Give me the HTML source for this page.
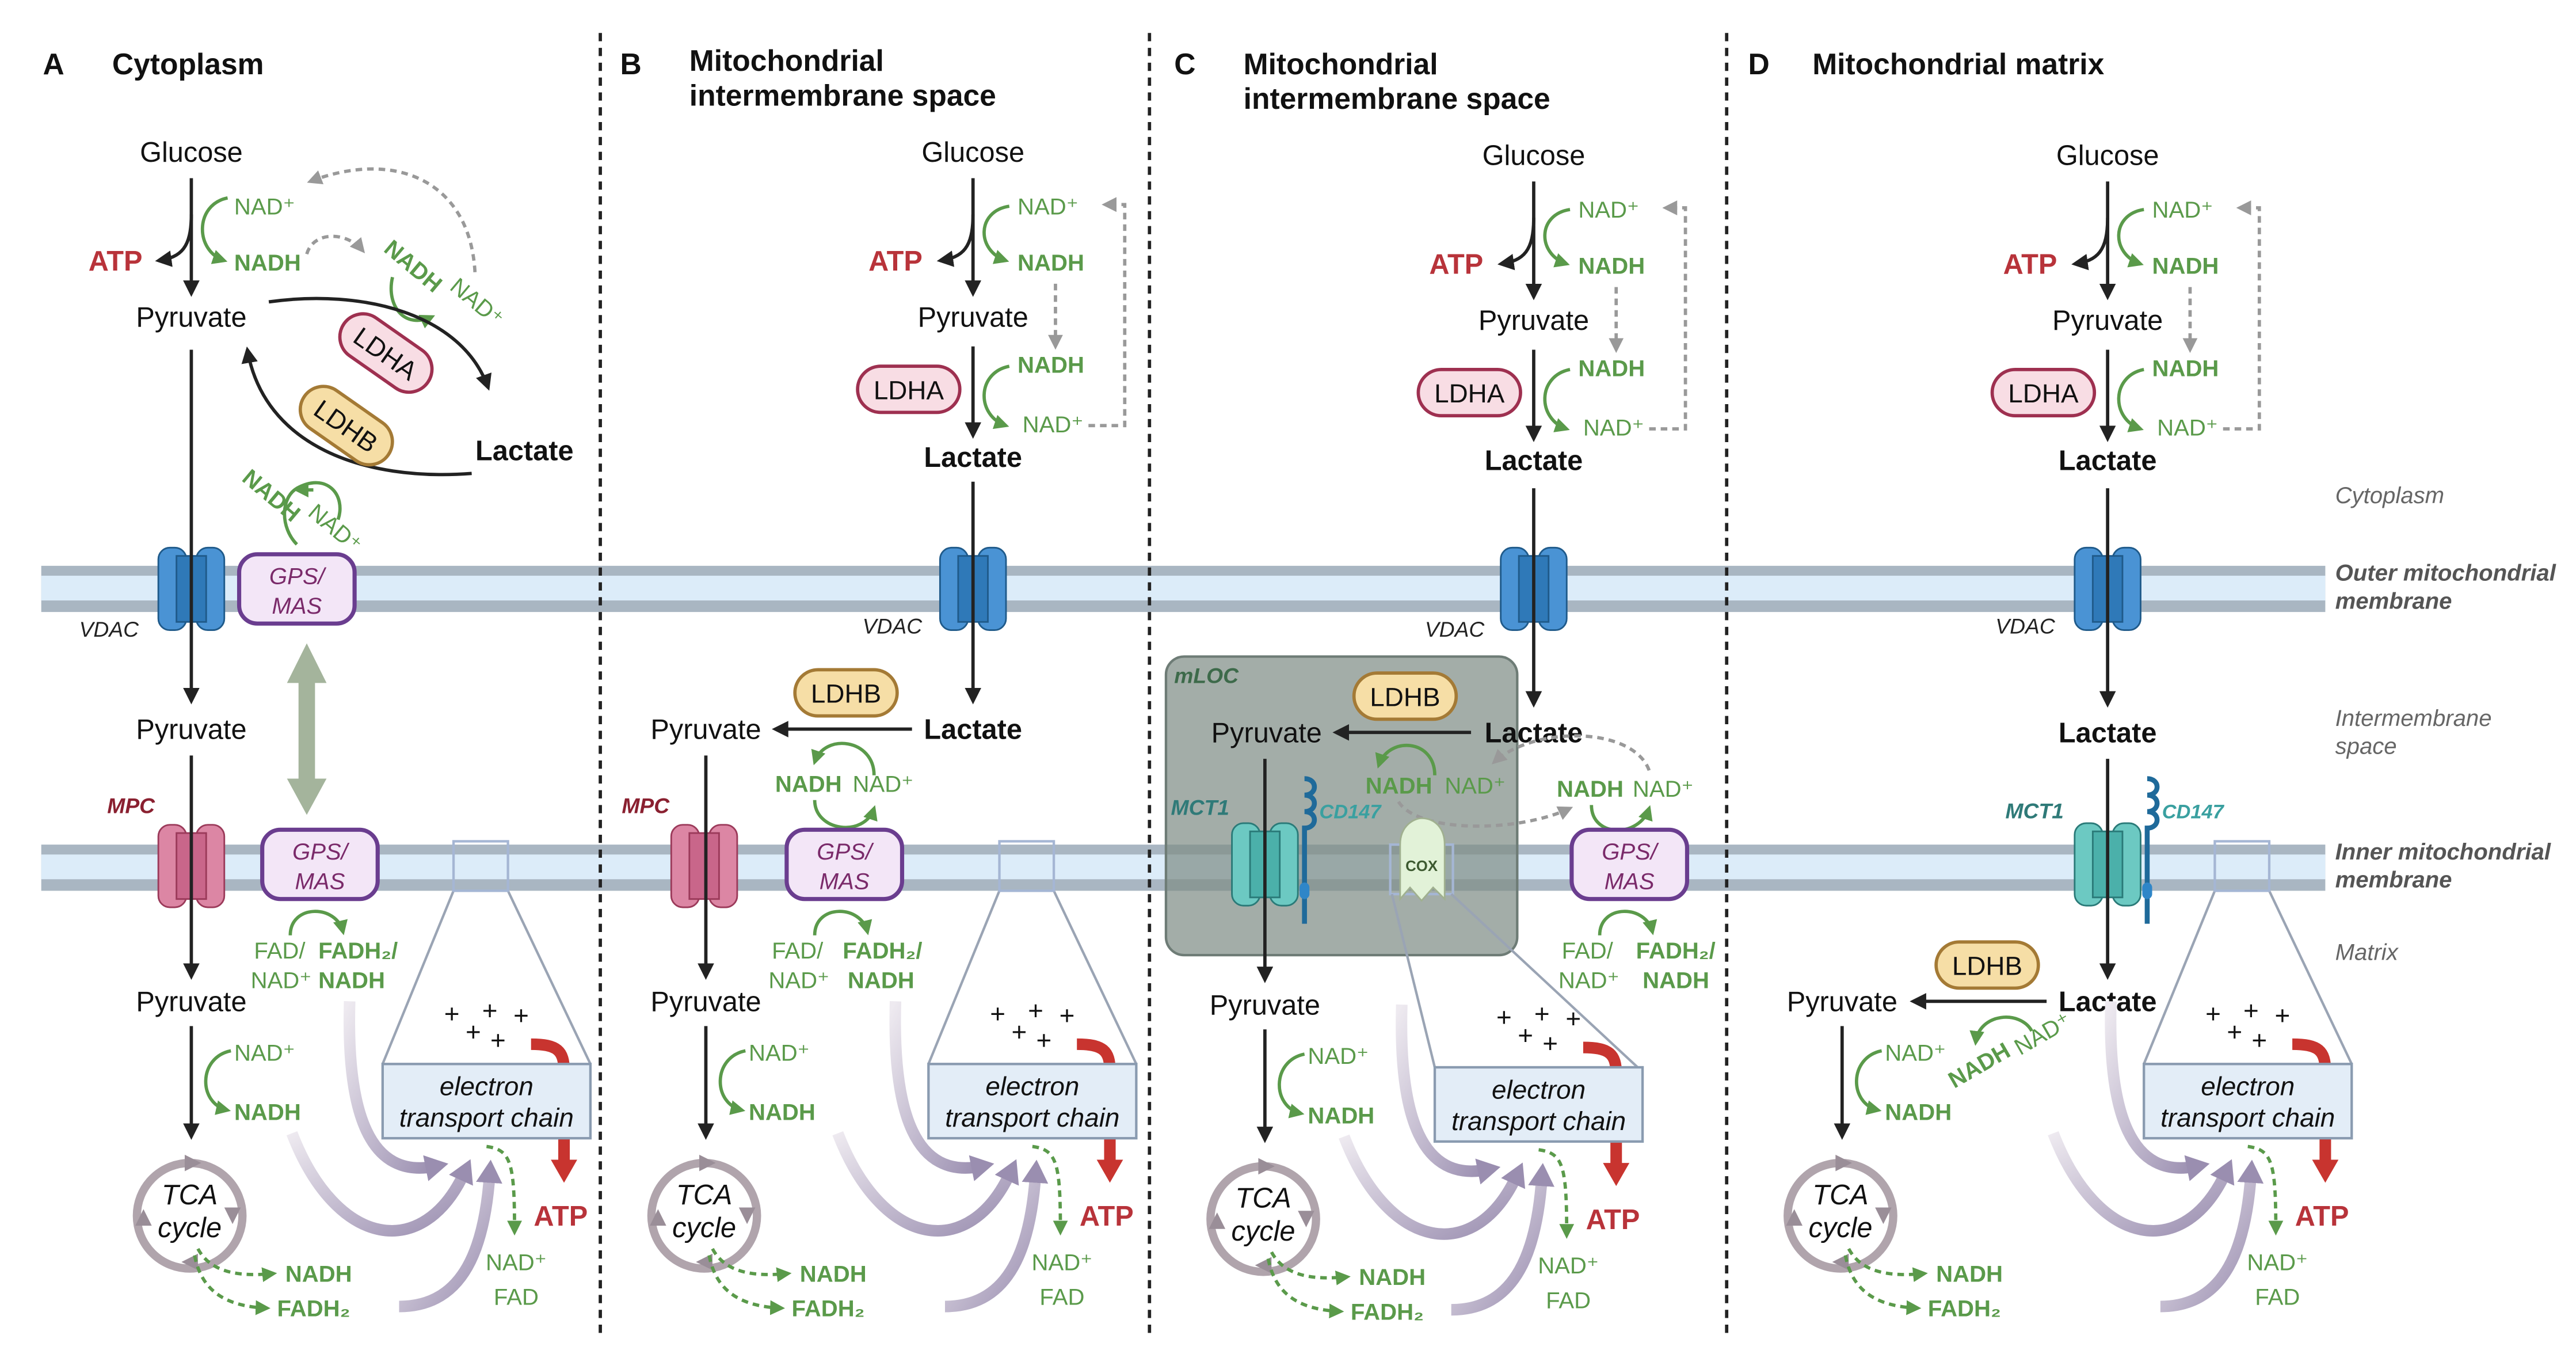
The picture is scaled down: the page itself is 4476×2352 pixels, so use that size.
<!DOCTYPE html>
<html><head><meta charset="utf-8"><style>
html,body{margin:0;padding:0;background:#fff}
svg{display:block}
text{font-family:"Liberation Sans",sans-serif}
.t{font-size:17px;fill:#111;text-anchor:middle}
.b{font-weight:bold}
.g{fill:#5a9a4a;font-size:14px}
.gb{fill:#5a9a4a;font-size:14px;font-weight:bold}
.r{fill:#b8333a;font-size:17px;font-weight:bold}
.ttl{font-size:18px;font-weight:bold;fill:#111}
.side{font-size:14px;font-style:italic;fill:#666}
.sideb{font-size:14px;font-style:italic;font-weight:bold;fill:#555}
.lbl{font-size:13px;font-style:italic;fill:#222}
.gm{font-size:14px;font-style:italic;fill:#7a2a6a;text-anchor:middle}
</style></head><body>
<svg xmlns="http://www.w3.org/2000/svg" width="4476" height="2352" viewBox="0 0 1562 820.8">
<defs>
<marker id="ak" markerWidth="10" markerHeight="10" refX="8" refY="5" orient="auto" markerUnits="userSpaceOnUse"><path d="M0,0 L10,5 L0,10 z" fill="#222"/></marker>
<marker id="ag" markerWidth="9" markerHeight="9" refX="7" refY="4.5" orient="auto" markerUnits="userSpaceOnUse"><path d="M0,0 L9,4.5 L0,9 z" fill="#5a9a4a"/></marker>
<marker id="agr" markerWidth="9" markerHeight="9" refX="7" refY="4.5" orient="auto" markerUnits="userSpaceOnUse"><path d="M0,0 L9,4.5 L0,9 z" fill="#999"/></marker>
<marker id="ap" markerWidth="16" markerHeight="16" refX="6" refY="8" orient="auto" markerUnits="userSpaceOnUse"><path d="M0,0 L14,8 L0,16 z" fill="#9a8eb0"/></marker>
<marker id="ar" markerWidth="16" markerHeight="16" refX="5" refY="8" orient="auto" markerUnits="userSpaceOnUse"><path d="M0,0 L14,8 L0,16 z" fill="#c8342f"/></marker>
<linearGradient id="pg" x1="0" y1="0" x2="1" y2="1"><stop offset="0" stop-color="#eeeaf0"/><stop offset="1" stop-color="#9a8eb0"/></linearGradient>

<g id="vdac"><rect x="-20" y="-25" width="17" height="50" rx="7" fill="#4a93d4" stroke="#1f5a8a"/><rect x="3" y="-25" width="17" height="50" rx="7" fill="#4a93d4" stroke="#1f5a8a"/><rect x="-9" y="-20" width="18" height="40" fill="#2f79b8" stroke="#1f5a8a"/></g>
<g id="mpc"><rect x="-20" y="-25" width="17" height="50" rx="7" fill="#dc86a4" stroke="#9b3a5a"/><rect x="3" y="-25" width="17" height="50" rx="7" fill="#dc86a4" stroke="#9b3a5a"/><rect x="-9" y="-20" width="18" height="40" fill="#c9668a" stroke="#9b3a5a"/></g>
<g id="mct"><rect x="-20" y="-25" width="17" height="50" rx="7" fill="#6cc9c2" stroke="#2a7a78"/><rect x="3" y="-25" width="17" height="50" rx="7" fill="#6cc9c2" stroke="#2a7a78"/><rect x="-9" y="-20" width="18" height="40" fill="#4bb0aa" stroke="#2a7a78"/></g>
<g id="cd147"><path d="M0,-48 C8,-48 8,-38 0,-38 C8,-38 8,-28 0,-28 C8,-28 8,-18 0,-18 L0,40" fill="none" stroke="#1f6a9a" stroke-width="3"/><rect x="-3" y="15" width="6" height="10" rx="3" fill="#2f86c8"/></g>
<g id="gps"><rect x="-35" y="-21" width="70" height="42" rx="11" fill="#f3e6f7" stroke="#6a3d8f" stroke-width="2.5"/><text class="gm" x="0" y="-3">GPS/</text><text class="gm" x="0" y="15">MAS</text></g>

<g id="etcbase">
<path d="M90,-12 C106,-12 110,-8 110,4 L110,63" fill="none" stroke="#c8342f" stroke-width="7" marker-end="url(#ar)"/>
<rect x="0" y="0" width="126" height="45" fill="#e3edf7" stroke="#8a9bb0" stroke-width="1.5"/>
<text x="63" y="19" text-anchor="middle" font-size="16" font-style="italic" fill="#111">electron</text>
<text x="63" y="38" text-anchor="middle" font-size="16" font-style="italic" fill="#111">transport chain</text>
<g font-size="16" fill="#111" text-anchor="middle"><text x="42" y="-25">+</text><text x="55" y="-14">+</text><text x="65" y="-27">+</text><text x="70" y="-9">+</text><text x="84" y="-24">+</text></g>
<text class="r" x="108" y="98" text-anchor="middle">ATP</text>
<path d="M63,50 C78,52 80,60 80,102" fill="none" stroke="#5a9a4a" stroke-width="2" stroke-dasharray="4,3" marker-end="url(#ag)"/>
<text class="g" x="81" y="125" text-anchor="middle">NAD⁺</text>
<text class="g" x="81" y="146" text-anchor="middle">FAD</text>
<path d="M-20,-38 C-22,30 -8,70 32,62" fill="none" stroke="url(#pg)" stroke-width="7" marker-end="url(#ap)"/>
<path d="M-55,42 C-28,112 25,120 50,65" fill="none" stroke="url(#pg)" stroke-width="7" marker-end="url(#ap)"/>
<path d="M10,147 C50,147 62,110 65,66" fill="none" stroke="url(#pg)" stroke-width="7" marker-end="url(#ap)"/>
</g>
<g id="etc">
<line x1="0" y1="0" x2="43" y2="-105" stroke="#9aa4b4" stroke-width="1.5"/>
<line x1="126" y1="0" x2="76" y2="-105" stroke="#9aa4b4" stroke-width="1.5"/>
<rect x="43" y="-135" width="33" height="30" fill="none" stroke="#a5b6d4" stroke-width="1.5"/>
<use href="#etcbase"/>
</g>

<g id="tca">
<text class="t" x="0" y="6">Pyruvate</text>
<line x1="0" y1="15" x2="0" y2="82" stroke="#222" stroke-width="2" marker-end="url(#ak)"/>
<path d="M24,30 C4,34 4,62 22,66" fill="none" stroke="#5a9a4a" stroke-width="2" marker-end="url(#ag)"/>
<text class="g" x="26" y="36">NAD⁺</text>
<text class="gb" x="26" y="72">NADH</text>
<circle cx="-1" cy="130" r="32" fill="none" stroke="#b0a4ac" stroke-width="5"/>
<path d="M-4,93 l10,5 l-10,5 z M30,125 l-5,10 l-5,-10 z M-34,136 l5,-10 l5,10 z M4,163 l-10,-5 l10,-5 z" fill="#9a8e98"/>
<text x="-1" y="123" text-anchor="middle" font-size="17" font-style="italic" fill="#111">TCA</text>
<text x="-1" y="143" text-anchor="middle" font-size="17" font-style="italic" fill="#111">cycle</text>
<path d="M4,150 C12,165 30,167 50,165" fill="none" stroke="#5a9a4a" stroke-width="2" stroke-dasharray="4,3" marker-end="url(#ag)"/>
<path d="M2,154 C6,175 20,185 46,186" fill="none" stroke="#5a9a4a" stroke-width="2" stroke-dasharray="4,3" marker-end="url(#ag)"/>
<text class="gb" x="57" y="170">NADH</text>
<text class="gb" x="52" y="191">FADH₂</text>
</g>

<g id="gly">
<text class="t" x="0" y="6">Glucose</text>
<line x1="0" y1="16" x2="0" y2="86" stroke="#222" stroke-width="2" marker-end="url(#ak)"/>
<path d="M0,38 C0,58 -6,64 -20,66" fill="none" stroke="#222" stroke-width="2" marker-end="url(#ak)"/>
<text class="r" x="-47" y="72" text-anchor="middle">ATP</text>
<path d="M22,33 C2,36 2,60 20,66" fill="none" stroke="#5a9a4a" stroke-width="2" marker-end="url(#ag)"/>
<text class="g" x="27" y="38">NAD⁺</text>
<text class="gb" x="27" y="72">NADH</text>
<text class="t" x="0" y="106">Pyruvate</text>
<line x1="0" y1="118" x2="0" y2="172" stroke="#222" stroke-width="2" marker-end="url(#ak)"/>
<path d="M50,80 L50,118" fill="none" stroke="#999" stroke-width="2" stroke-dasharray="4,3" marker-end="url(#agr)"/>
<rect x="-70" y="130" width="62" height="28" rx="14" fill="#f8dde4" stroke="#9e3050" stroke-width="2"/>
<text x="-39" y="150" text-anchor="middle" font-size="16" fill="#111">LDHA</text>
<path d="M22,130 C2,134 2,160 20,166" fill="none" stroke="#5a9a4a" stroke-width="2" marker-end="url(#ag)"/>
<text class="gb" x="27" y="134">NADH</text>
<text class="g" x="30" y="170">NAD⁺</text>
<path d="M70,166 L92,166 L92,32 L80,32" fill="none" stroke="#999" stroke-width="2" stroke-dasharray="4,3" marker-end="url(#agr)"/>
<text class="t b" x="0" y="191">Lactate</text>
</g>
</defs>

<!-- membranes -->
<g>
<rect x="25" y="343" width="1385" height="28" fill="#a9b6c2"/><rect x="25" y="349" width="1385" height="15" fill="#dcecf9"/>
<rect x="25" y="512" width="1385" height="28" fill="#a9b6c2"/><rect x="25" y="518" width="1385" height="15" fill="#dcecf9"/>
</g>

<!-- dividers -->
<g stroke="#222" stroke-width="2" stroke-dasharray="5,4">
<line x1="364" y1="20" x2="364" y2="810"/><line x1="697" y1="20" x2="697" y2="810"/><line x1="1047" y1="20" x2="1047" y2="810"/>
</g>

<!-- titles -->
<text class="ttl" x="26" y="45">A</text><text class="ttl" x="68" y="45">Cytoplasm</text>
<text class="ttl" x="376" y="45">B</text><text class="ttl" x="418" y="43">Mitochondrial</text><text class="ttl" x="418" y="64">intermembrane space</text>
<text class="ttl" x="712" y="45">C</text><text class="ttl" x="754" y="45">Mitochondrial</text><text class="ttl" x="754" y="66">intermembrane space</text>
<text class="ttl" x="1060" y="45">D</text><text class="ttl" x="1099" y="45">Mitochondrial matrix</text>

<!-- side labels -->
<text class="side" x="1416" y="305">Cytoplasm</text>
<text class="sideb" x="1416" y="352">Outer mitochondrial</text><text class="sideb" x="1416" y="369">membrane</text>
<text class="side" x="1416" y="440">Intermembrane</text><text class="side" x="1416" y="457">space</text>
<text class="sideb" x="1416" y="521">Inner mitochondrial</text><text class="sideb" x="1416" y="538">membrane</text>
<text class="side" x="1416" y="582">Matrix</text>

<!-- ===== Panel A ===== -->
<text class="t" x="116" y="98">Glucose</text>
<line x1="116" y1="108" x2="116" y2="178" stroke="#222" stroke-width="2" marker-end="url(#ak)"/>
<path d="M116,130 C116,150 110,156 96,158" fill="none" stroke="#222" stroke-width="2" marker-end="url(#ak)"/>
<text class="r" x="70" y="164" text-anchor="middle">ATP</text>
<path d="M138,120 C118,124 118,152 136,158" fill="none" stroke="#5a9a4a" stroke-width="2" marker-end="url(#ag)"/>
<text class="g" x="142" y="130">NAD⁺</text>
<text class="gb" x="142" y="164">NADH</text>
<path d="M186,154 C190,140 210,140 220,152" fill="none" stroke="#999" stroke-width="2" stroke-dasharray="4,3" marker-end="url(#agr)"/>
<path d="M288,165 C285,110 240,90 188,110" fill="none" stroke="#999" stroke-width="2" stroke-dasharray="4,3" marker-end="url(#agr)"/>
<text class="gb" transform="translate(232,152) rotate(40)">NADH</text>
<text class="g" transform="translate(272,175) rotate(40)">NAD⁺</text>
<path d="M238,168 C234,185 245,200 262,192" fill="none" stroke="#5a9a4a" stroke-width="2" marker-end="url(#ag)"/>
<text class="t" x="116" y="198">Pyruvate</text>
<path d="M163,183 C220,175 280,190 296,235" fill="none" stroke="#222" stroke-width="2" marker-end="url(#ak)"/>
<path d="M286,287 C220,292 160,270 150,212" fill="none" stroke="#222" stroke-width="2" marker-end="url(#ak)"/>
<g transform="translate(234,214) rotate(35)"><rect x="-31" y="-14" width="62" height="28" rx="14" fill="#f8dde4" stroke="#9e3050" stroke-width="2"/><text x="0" y="6" text-anchor="middle" font-size="16" fill="#111">LDHA</text></g>
<g transform="translate(210,258) rotate(35)"><rect x="-31" y="-14" width="62" height="28" rx="14" fill="#f6dea6" stroke="#a47a35" stroke-width="2"/><text x="0" y="6" text-anchor="middle" font-size="16" fill="#111">LDHB</text></g>
<text class="t b" x="318" y="279">Lactate</text>
<text class="gb" transform="translate(146,291) rotate(40)">NADH</text>
<text class="g" transform="translate(186,312) rotate(40)">NAD⁺</text>
<path d="M180,330 C170,320 170,302 180,296 C198,286 210,300 205,315" fill="none" stroke="#5a9a4a" stroke-width="2"/>
<path d="M190,297 L180,297" fill="none" stroke="#5a9a4a" stroke-width="2" marker-end="url(#ag)"/>
<use href="#vdac" x="116" y="357"/>
<use href="#gps" x="180" y="357"/>
<text class="lbl" x="48" y="386">VDAC</text>
<line x1="116" y1="212" x2="116" y2="425" stroke="#222" stroke-width="2" marker-end="url(#ak)"/>
<text class="t" x="116" y="448">Pyruvate</text>
<path d="M186,390 L198,414 L191,414 L191,472 L198,472 L186,494 L174,472 L181,472 L181,414 L174,414 z" fill="#a4b49c"/>
<text x="65" y="493" font-size="13" font-style="italic" font-weight="bold" fill="#8a2030">MPC</text>
<use href="#mpc" x="116" y="525"/>
<use href="#gps" x="194" y="524"/>
<line x1="116" y1="458" x2="116" y2="592" stroke="#222" stroke-width="2" marker-end="url(#ak)"/>
<path d="M176,567 C176,548 204,548 208,565" fill="none" stroke="#5a9a4a" stroke-width="2" marker-end="url(#ag)"/>
<text class="g" x="154" y="581">FAD/</text><text class="gb" x="193" y="581">FADH₂/</text>
<text class="g" x="152" y="599">NAD⁺</text><text class="gb" x="193" y="599">NADH</text>
<use href="#tca" x="116" y="607"/>
<use href="#etc" x="232" y="645"/>

<!-- ===== Panel B ===== -->
<use href="#gly" x="590" y="92"/>
<use href="#vdac" x="590" y="357"/>
<text class="lbl" x="523" y="384">VDAC</text>
<line x1="590" y1="292" x2="590" y2="425" stroke="#222" stroke-width="2" marker-end="url(#ak)"/>
<rect x="482" y="406" width="62" height="28" rx="14" fill="#f6dea6" stroke="#a47a35" stroke-width="2"/>
<text x="513" y="426" text-anchor="middle" font-size="16" fill="#111">LDHB</text>
<text class="t b" x="590" y="448">Lactate</text>
<line x1="553" y1="442" x2="470" y2="442" stroke="#222" stroke-width="2" marker-end="url(#ak)"/>
<text class="t" x="428" y="448">Pyruvate</text>
<path d="M530,470 C530,448 500,444 494,462" fill="none" stroke="#5a9a4a" stroke-width="2" marker-end="url(#ag)"/>
<text class="gb" x="470" y="480">NADH</text><text class="g" x="517" y="480">NAD⁺</text>
<path d="M494,485 C494,504 524,508 530,490" fill="none" stroke="#5a9a4a" stroke-width="2" marker-end="url(#ag)"/>
<text x="377" y="493" font-size="13" font-style="italic" font-weight="bold" fill="#8a2030">MPC</text>
<use href="#mpc" x="427" y="525"/>
<use href="#gps" x="512" y="524"/>
<line x1="428" y1="458" x2="428" y2="592" stroke="#222" stroke-width="2" marker-end="url(#ak)"/>
<path d="M494,567 C494,548 522,548 526,565" fill="none" stroke="#5a9a4a" stroke-width="2" marker-end="url(#ag)"/>
<text class="g" x="468" y="581">FAD/</text><text class="gb" x="511" y="581">FADH₂/</text>
<text class="g" x="466" y="599">NAD⁺</text><text class="gb" x="514" y="599">NADH</text>
<use href="#tca" x="428" y="607"/>
<use href="#etc" x="563" y="645"/>

<!-- ===== Panel C ===== -->
<use href="#gly" x="930" y="94"/>
<use href="#vdac" x="930" y="357"/>
<text class="lbl" x="864" y="386">VDAC</text>
<line x1="930" y1="296" x2="930" y2="427" stroke="#222" stroke-width="2" marker-end="url(#ak)"/>
<rect x="707" y="398" width="213" height="181" rx="11" fill="#7f8d87" fill-opacity="0.72" stroke="#6e7c76" stroke-width="1.5"/>
<text x="712" y="414" font-size="13" font-style="italic" font-weight="bold" fill="#3d6a4a">mLOC</text>
<rect x="821" y="408" width="62" height="28" rx="14" fill="#f6dea6" stroke="#a47a35" stroke-width="2"/>
<text x="852" y="428" text-anchor="middle" font-size="16" fill="#111">LDHB</text>
<text class="t b" x="930" y="450">Lactate</text>
<line x1="892" y1="444" x2="810" y2="444" stroke="#222" stroke-width="2" marker-end="url(#ak)"/>
<text class="t" x="768" y="450">Pyruvate</text>
<path d="M870,470 C870,448 842,446 836,464" fill="none" stroke="#5a9a4a" stroke-width="2" marker-end="url(#ag)"/>
<text class="gb" x="828" y="481">NADH</text><text class="g" x="876" y="481">NAD⁺</text>
<path d="M1000,467 C990,440 930,440 906,462" fill="none" stroke="#999" stroke-width="2" stroke-dasharray="4,3" marker-end="url(#agr)"/>
<path d="M848,486 C860,505 920,505 952,490" fill="none" stroke="#999" stroke-width="2" stroke-dasharray="4,3" marker-end="url(#agr)"/>
<text class="gb" x="944" y="483">NADH</text><text class="g" x="990" y="483">NAD⁺</text>
<path d="M965,488 C965,508 994,508 1000,490" fill="none" stroke="#5a9a4a" stroke-width="2" marker-end="url(#ag)"/>
<text x="710" y="494" font-size="13" font-style="italic" font-weight="bold" fill="#2f7a78">MCT1</text>
<use href="#mct" x="767" y="524"/>
<use href="#cd147" x="791" y="520"/>
<text x="800" y="496" font-size="12" font-style="italic" font-weight="bold" fill="#3aa0a0">CD147</text>
<rect x="843" y="512" width="38" height="30" fill="none" stroke="#a5b6d4" stroke-width="1.5"/>
<line x1="844" y1="542" x2="870" y2="647" stroke="#9aa4b4" stroke-width="1.5"/>
<line x1="880" y1="542" x2="993" y2="647" stroke="#9aa4b4" stroke-width="1.5"/>
<path d="M849,512 C849,500 858,496 862,496 C870,496 876,502 876,512 L876,545 L869,538 L862,546 L855,538 L849,545 z" fill="#e2f2d8" stroke="#a0b090"/>
<text x="862" y="528" text-anchor="middle" font-size="9" font-weight="bold" fill="#3d5a30">COX</text>
<use href="#gps" x="988" y="524"/>
<line x1="767" y1="460" x2="767" y2="594" stroke="#222" stroke-width="2" marker-end="url(#ak)"/>
<path d="M970,567 C970,548 998,548 1002,565" fill="none" stroke="#5a9a4a" stroke-width="2" marker-end="url(#ag)"/>
<text class="g" x="947" y="581">FAD/</text><text class="gb" x="992" y="581">FADH₂/</text>
<text class="g" x="945" y="599">NAD⁺</text><text class="gb" x="996" y="599">NADH</text>
<use href="#tca" x="767" y="609"/>
<use href="#etcbase" x="870" y="647"/>

<!-- ===== Panel D ===== -->
<use href="#gly" x="1278" y="94"/>
<use href="#vdac" x="1278" y="357"/>
<text class="lbl" x="1210" y="384">VDAC</text>
<line x1="1278" y1="296" x2="1278" y2="427" stroke="#222" stroke-width="2" marker-end="url(#ak)"/>
<text class="t b" x="1278" y="450">Lactate</text>
<text x="1216" y="496" font-size="13" font-style="italic" font-weight="bold" fill="#2f7a78">MCT1</text>
<use href="#mct" x="1278" y="524"/>
<use href="#cd147" x="1302" y="520"/>
<text x="1311" y="496" font-size="12" font-style="italic" font-weight="bold" fill="#3aa0a0">CD147</text>
<line x1="1278" y1="460" x2="1278" y2="592" stroke="#222" stroke-width="2" marker-end="url(#ak)"/>
<rect x="1174" y="571" width="62" height="28" rx="14" fill="#f6dea6" stroke="#a47a35" stroke-width="2"/>
<text x="1205" y="591" text-anchor="middle" font-size="16" fill="#111">LDHB</text>
<text class="t b" x="1278" y="613">Lactate</text>
<line x1="1241" y1="607" x2="1160" y2="607" stroke="#222" stroke-width="2" marker-end="url(#ak)"/>
<text class="gb" transform="translate(1185,660) rotate(-30)">NADH</text>
<text class="g" transform="translate(1225,640) rotate(-30)">NAD⁺</text>
<path d="M1232,625 C1225,612 1200,614 1198,632" fill="none" stroke="#5a9a4a" stroke-width="2" marker-end="url(#ag)"/>
<use href="#tca" x="1117" y="607"/>
<use href="#etc" x="1300" y="645"/>
</svg>
</body></html>
